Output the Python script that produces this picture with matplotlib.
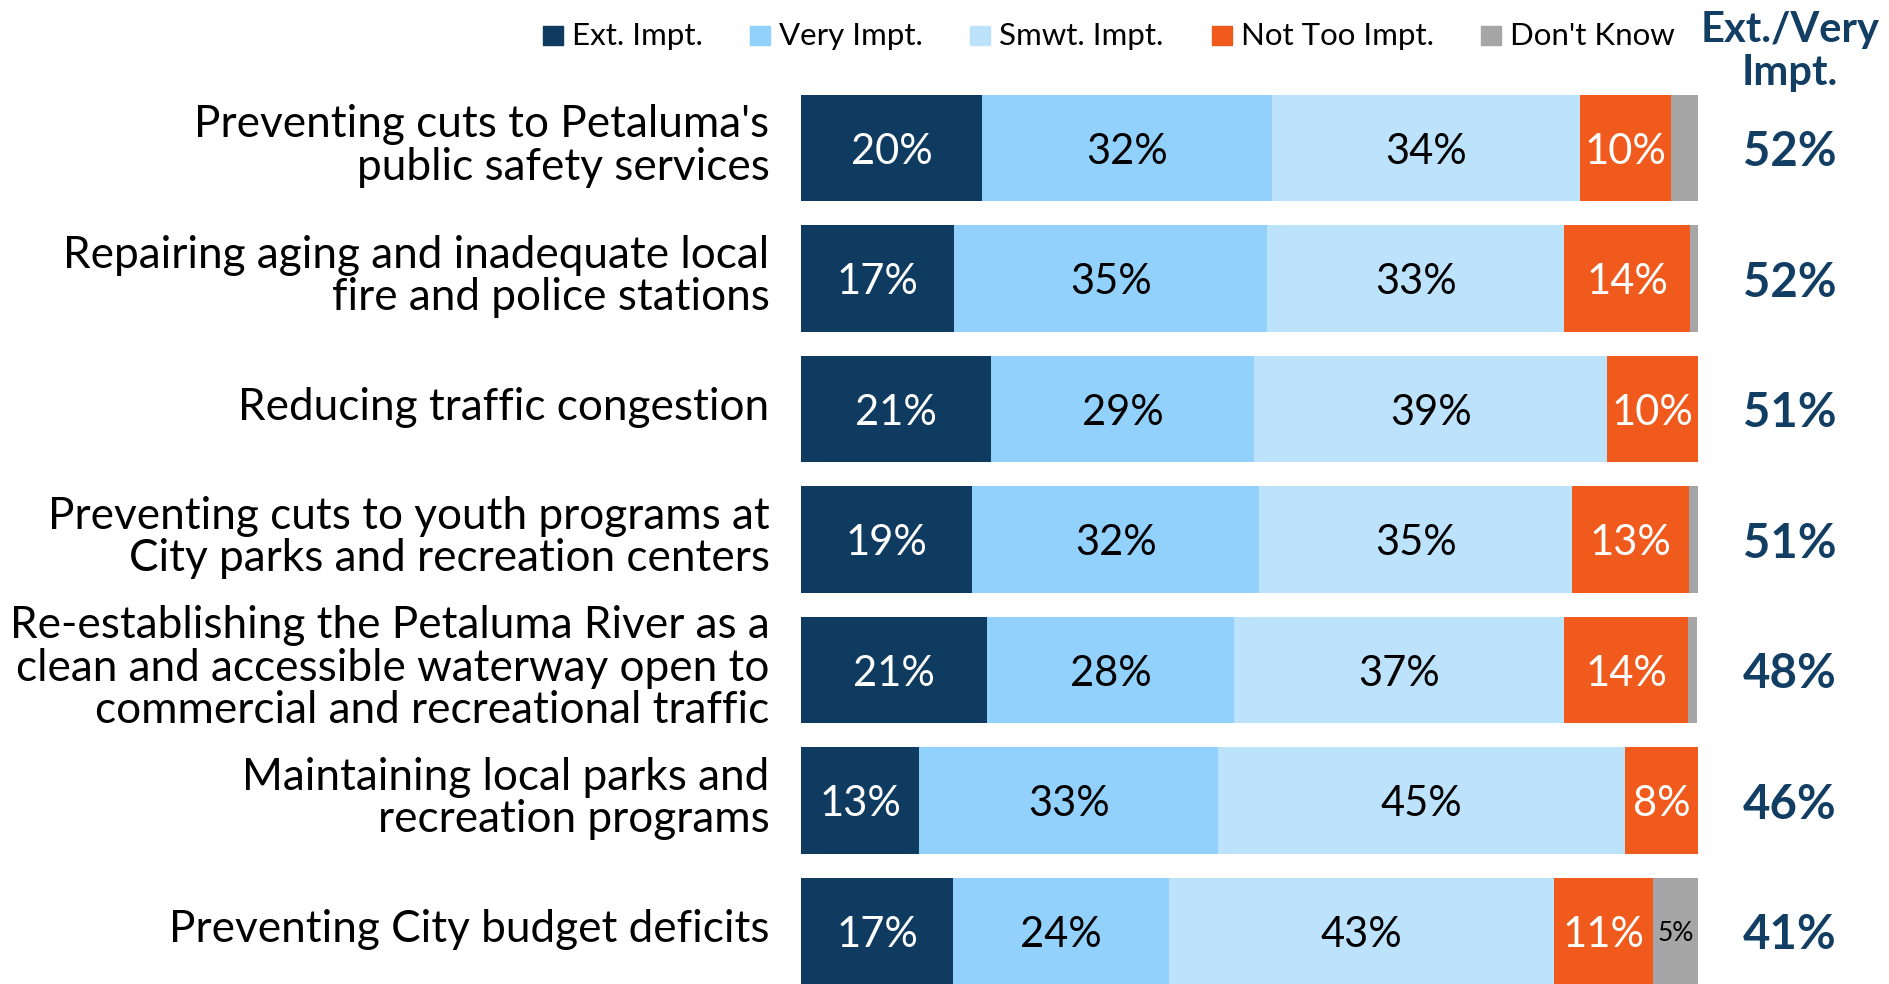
import numpy as np
import matplotlib.pyplot as plt
from matplotlib.patches import Rectangle

plt.rcParams['font.family'] = ['Lato', 'DejaVu Sans']

# data (percent of respondents)
items = [
    "Preventing cuts to Petaluma's\npublic safety services",
    "Repairing aging and inadequate local\nfire and police stations",
    "Reducing traffic congestion",
    "Preventing cuts to youth programs at\nCity parks and recreation centers",
    "Re-establishing the Petaluma River as a\nclean and accessible waterway open to\ncommercial and recreational traffic",
    "Maintaining local parks and\nrecreation programs",
    "Preventing City budget deficits",
]
ext_impt = [20.2, 17.1, 21.2, 19.1, 20.7, 13.2, 17.0]
very_impt = [32.3, 34.9, 29.3, 32.0, 27.6, 33.3, 24.0]
smwt_impt = [34.4, 33.1, 39.4, 34.9, 36.8, 45.4, 43.0]
not_too = [10.1, 14.0, 10.1, 13.0, 13.8, 8.1, 11.0]
dont_know = [3.0, 0.9, 0.0, 1.0, 1.0, 0.0, 5.0]
ext_very = [52, 52, 51, 51, 48, 46, 41]

series = [ext_impt, very_impt, smwt_impt, not_too, dont_know]
names = ["Ext. Impt.", "Very Impt.", "Smwt. Impt.", "Not Too Impt.", "Don't Know"]
colors = ['#103b60', '#92d1fc', '#bde3fc', '#f05a1c', '#a6a6a6']
txt_colors = ['white', 'black', 'black', 'white', 'black']
navy = '#123e63'

W, H = 1889, 984
fig = plt.figure(figsize=(W / 100, H / 100), dpi=100)

# axes: x 0..100 maps to px 801..1698, rows spaced 130.5 px starting at centre 148
x0, x1 = 801, 1698
pitch = 130.5
top_px = 148 - pitch / 2
bot_px = top_px + pitch * len(items)
ax = fig.add_axes([x0 / W, (H - bot_px) / H, (x1 - x0) / W, (bot_px - top_px) / H])
ax.set_xlim(0, 100)
ax.set_ylim(len(items) - 0.5, -0.5)
ax.axis('off')

y = np.arange(len(items))
left = np.zeros(len(items))
for k, vals in enumerate(series):
    vals = np.array(vals)
    ax.barh(y, vals, left=left, height=106.5 / pitch, color=colors[k],
            edgecolor='none', clip_on=False)
    for i, v in enumerate(vals):
        if v >= 7:
            ax.text(left[i] + v / 2, y[i], f"{v:.0f}%", ha='center',
                    va='center_baseline', fontsize=30, color=txt_colors[k])
        elif v >= 4.5:
            ax.text(left[i] + v / 2, y[i], f"{v:.0f}%", ha='center',
                    va='center_baseline', fontsize=19, color=txt_colors[k])
    left += vals

# category labels
for i, lab in enumerate(items):
    ax.text(-3.5, y[i] - 0.015, lab, ha='right', va='center', fontsize=31.8,
            linespacing=1.05, color='black')

# right column: Ext./Very total
xr = (1790 - x0) / (x1 - x0) * 100
for i, v in enumerate(ext_very):
    ax.text(xr, y[i], f"{v}%", ha='center', va='center_baseline',
            fontsize=34, fontweight='bold', color=navy)

fig.text(1790 / W, 1 - 42 / H, "Ext./Very", ha='center', va='baseline',
         fontsize=30, fontweight='bold', color=navy)
fig.text(1790 / W, 1 - 85 / H, "Impt.", ha='center', va='baseline',
         fontsize=30, fontweight='bold', color=navy)

# legend
leg_x = [543, 750, 970, 1212, 1481]
for k, name in enumerate(names):
    fig.patches.append(Rectangle((leg_x[k] / W, 1 - 45 / H), 20 / W, 19 / H,
                                 transform=fig.transFigure, color=colors[k]))
    fig.text((leg_x[k] + 29) / W, 1 - 45 / H, name, ha='left', va='baseline',
             fontsize=22.5, color='black')

fig.savefig('out.png', dpi=100)
